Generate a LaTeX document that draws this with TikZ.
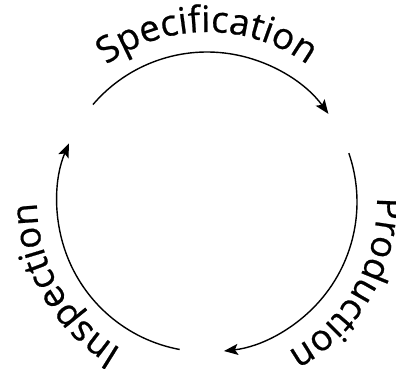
\documentclass[tikz,border=0pt]{standalone}
\usepackage{fontspec}
\newfontfamily\cyclefont[FakeBold=0.6]{Open Sans}
\usetikzlibrary{decorations.text, arrows.meta, calc}
\begin{document}
\begin{tikzpicture}[x=1pt, y=1pt,
  cyclearc/.style={line width=1.4pt,
    -{Stealth[length=14pt, width=11pt, inset=3pt]}}]
\useasboundingbox (0,0) rectangle (396,369);
\coordinate (c) at (207,167);

% the three phases of the cycle, each an arc ending in an arrow
\draw[cyclearc] ($(c)+(139.5:150)$) arc[start angle=139.5, end angle=36, radius=150];
\draw[cyclearc] ($(c)+(19:150)$) arc[start angle=19, end angle=-83.5, radius=150];
\draw[cyclearc] ($(c)+(259.5:150)$) arc[start angle=259.5, end angle=157, radius=150];

% labels set along an outer circle, read clockwise
\path[decorate, decoration={text along path, text align=center,
  text={|\cyclefont\fontsize{36.5}{42}\selectfont|Specification}}]
  ($(c)+(180:170)$) arc[start angle=180, end angle=0, radius=170];
\path[decorate, decoration={text along path, text align=center,
  text={|\cyclefont\fontsize{36.5}{42}\selectfont|Production}}]
  ($(c)+(60:170)$) arc[start angle=60, end angle=-120, radius=170];
\path[decorate, decoration={text along path, text align=center,
  text={|\cyclefont\fontsize{36.5}{42}\selectfont|Inspection}}]
  ($(c)+(300:170)$) arc[start angle=300, end angle=120, radius=170];
\end{tikzpicture}
\end{document}
